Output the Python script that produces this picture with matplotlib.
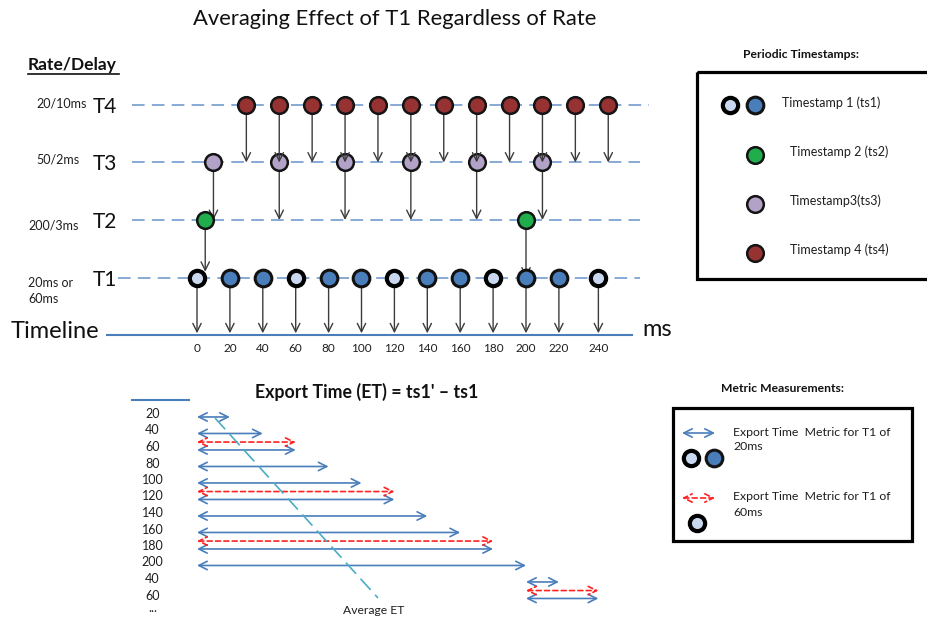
import matplotlib
matplotlib.use('Agg')
import matplotlib.pyplot as plt
from matplotlib.patches import Rectangle

plt.rcParams['font.family'] = ['Lato', 'DejaVu Sans']

# ---------------- data ----------------
# top diagram (x in ms)
t1_times = [0, 20, 40, 60, 80, 100, 120, 140, 160, 180, 200, 220, 244]
t1_light = [True, False, False, True, False, False, True, False, False, True, False, False, True]
t2_times = [5, 200]
t3_times = [10, 50, 90, 130, 170, 210]
t4_times = [30, 50, 70, 90, 110, 130, 150, 170, 190, 210, 230, 250]
tick_positions = [0, 20, 40, 60, 80, 100, 120, 140, 160, 180, 200, 220, 244]
tick_labels = ['0', '20', '40', '60', '80', '100', '120', '140', '160', '180', '200', '220', '240']
level_names = ['Timeline', 'T1', 'T2', 'T3', 'T4']
level_rates = ['', '20ms or\n60ms', '200/3ms', '50/2ms', '20/10ms']

# bottom diagram (x in ms, y in rows)
et_row_labels = ['20', '40', '60', '80', '100', '120', '140', '160', '180', '200', '40', '60', '...']
et_blue_start = [0, 0, 0, 0, 0, 0, 0, 0, 0, 0, 200, 200]
et_blue_end = [20, 40, 60, 80, 100, 120, 140, 160, 180, 200, 220, 244]
et_red_rows = [2, 5, 8, 11]
et_red_start = [0, 0, 0, 200]
et_red_end = [60, 120, 180, 244]
avg_et_x = [11, 110]
avg_et_row = [0.25, 11.15]

# ---------------- styles ----------------
C_LIGHT = '#c9d8ee'
C_BLUE = '#4a7ebb'
C_GREEN = '#1fae4b'
C_PURPLE = '#b3a2c7'
C_RED = '#963232'
C_DASH = '#7ea3d2'
C_ARROW = '#3c3c3c'
C_TXT = '#1e1e1e'

W, H = 927, 619
fig = plt.figure(figsize=(W / 100, H / 100), dpi=100)

# canvas axes in pixel units (layout only)
cv = fig.add_axes([0, 0, 1, 1])
cv.set_xlim(0, W)
cv.set_ylim(H, 0)
cv.axis('off')

# top diagram axes: x in ms, y in level
X0, SX = 197, 1.645
Y0, SY = 335, 57.5
top = fig.add_axes([0, 0, 1, 1])
top.set_xlim((0 - X0) / SX, (W - X0) / SX)
top.set_ylim((Y0 - H) / SY, (Y0 - 0) / SY)
top.axis('off')
top.patch.set_alpha(0)

# bottom diagram axes: x in ms, y in rows
R0, SR = 414, 16.5
bot = fig.add_axes([0, 0, 1, 1])
bot.set_xlim((0 - X0) / SX, (W - X0) / SX)
bot.set_ylim((H - R0) / SR, (0 - R0) / SR)
bot.axis('off')
bot.patch.set_alpha(0)

# ---- dashed level lines ----
dash_ext = {1: (-48, 269), 2: (-39.5, 269), 3: (-39.5, 269), 4: (-39.5, 275)}
for lv, (a, b) in dash_ext.items():
    top.plot([a, b], [lv, lv], color=C_DASH, lw=1.3, dashes=(7, 4), zorder=1)
top.plot([-54.7, 264.4], [0, 0], color=C_BLUE, lw=1.5, zorder=1)

def arrow(ax, x0, y0, x1, y1, z, **kw):
    props = dict(arrowstyle='->', color=C_ARROW, lw=1.0, mutation_scale=15,
                 shrinkA=0, shrinkB=0)
    props.update(kw)
    ax.annotate('', xy=(x1, y1), xytext=(x0, y0), arrowprops=props, zorder=z,
                annotation_clip=False)

# T3 -> T2 arrows
for t in t3_times:
    arrow(top, t, 3, t, 2, 2)
# T2 -> T1 arrows
arrow(top, t2_times[0], 2, t2_times[0], 1.1, 2)
arrow(top, t2_times[1], 2, t2_times[1], 1.0, 2)
# T1 -> timeline
for t in t1_times:
    arrow(top, t, 1, t, 0.03, 2)

# circles
def dot(ax, x, y, fc, ms=12, mew=1.8, ec='#141414', z=3):
    ax.plot([x], [y], 'o', ms=ms, mfc=fc, mec=ec, mew=mew, zorder=z)

for t in t3_times:
    dot(top, t, 3, C_PURPLE, z=3)
for t in t2_times:
    dot(top, t, 2, C_GREEN, z=3)
for t, lt in zip(t1_times, t1_light):
    if lt:
        dot(top, t, 1, C_LIGHT, ms=11, mew=3.0, ec='#000000', z=3)
    else:
        dot(top, t, 1, C_BLUE, ms=12, mew=2.2, ec='#111111', z=3)
# T4 -> T3 arrows (above T3 circles)
for t in t4_times:
    arrow(top, t, 4, t, 3.0, 4)
for t in t4_times:
    dot(top, t, 4, C_RED, z=5)

# tick labels under timeline
for p, lab in zip(tick_positions, tick_labels):
    top.text(p, -0.23, lab, ha='center', va='center', fontsize=8.5, color=C_TXT)

# ---- left labels ----
cv.text(28, 65, 'Rate/Delay', fontsize=12.5, fontweight='bold', ha='left', va='center',
        color='#111111')
cv.plot([28, 119], [74, 74], color='#111111', lw=1.2)
for lv in range(1, 5):
    cv.text(93, Y0 - SY * lv + 2, level_names[lv], fontsize=15, ha='left', va='center',
            color='#111111')
cv.text(36, 103, level_rates[4], fontsize=9, ha='left', va='center', color=C_TXT)
cv.text(36, 160, level_rates[3], fontsize=9, ha='left', va='center', color=C_TXT)
cv.text(28, 226, level_rates[2], fontsize=9, ha='left', va='center', color=C_TXT)
cv.text(28, 291, level_rates[1], fontsize=9, ha='left', va='center', color=C_TXT,
        linespacing=1.4)
cv.text(11, 331, 'Timeline', fontsize=17, ha='left', va='center', color='#111111')
cv.text(642, 330, 'ms', fontsize=17, ha='left', va='center', color='#111111')

# title
cv.text(395, 19, 'Averaging Effect of T1 Regardless of Rate', fontsize=15.8,
        ha='center', va='center', color='#111111')

# ---- Periodic timestamps box ----
cv.text(801, 54, 'Periodic Timestamps:', fontsize=8.7, fontweight='bold', ha='center',
        va='center', color='#111111')
cv.add_patch(Rectangle((697, 72), 250, 207, fill=False, lw=2.3, ec='#000000', zorder=2))
dot(cv, 730, 105, C_LIGHT, ms=11, mew=3.0, ec='#000000')
dot(cv, 755, 105, C_BLUE, ms=12, mew=2.2)
cv.text(782, 103, 'Timestamp 1 (ts1)', fontsize=9, ha='left', va='center', color=C_TXT)
dot(cv, 755, 155, C_GREEN)
cv.text(790, 152, 'Timestamp 2 (ts2)', fontsize=9, ha='left', va='center', color=C_TXT)
dot(cv, 755, 204, C_PURPLE)
cv.text(790, 201, 'Timestamp3(ts3)', fontsize=9, ha='left', va='center', color=C_TXT)
dot(cv, 755, 253, C_RED)
cv.text(790, 250, 'Timestamp 4 (ts4)', fontsize=9, ha='left', va='center', color=C_TXT)

# ---- Export time section ----
cv.text(367, 392, "Export Time (ET) = ts1' \u2013 ts1", fontsize=12.8, fontweight='bold',
        ha='center', va='center', color='#111111')
cv.plot([132, 189], [400, 400], color=C_BLUE, lw=1.5)

for i, lab in enumerate(et_row_labels):
    yy = i - 0.25 if lab == '...' else i
    bot.text(-27, yy, lab, fontsize=9, ha='center', va='center', color=C_TXT)

dbl = dict(arrowstyle='<->', lw=1.2, mutation_scale=15, shrinkA=0, shrinkB=0)
for i, (a, b) in enumerate(zip(et_blue_start, et_blue_end)):
    bot.annotate('', xy=(b, i + 0.18), xytext=(a, i + 0.18),
                 arrowprops=dict(dbl, color=C_BLUE), annotation_clip=False)
for r, a, b in zip(et_red_rows, et_red_start, et_red_end):
    bot.annotate('', xy=(b, r - 0.3), xytext=(a, r - 0.3),
                 arrowprops=dict(dbl, color='#ff2020', linestyle=(0, (3, 2))),
                 annotation_clip=False)
bot.plot(avg_et_x, avg_et_row, color='#4bacc6', lw=1.2, dashes=(9, 4), zorder=3)
cv.text(374, 610, 'Average ET', fontsize=8.7, ha='center', va='center', color=C_TXT)

# ---- Metric measurements box ----
cv.text(783, 388, 'Metric Measurements:', fontsize=8.7, fontweight='bold', ha='center',
        va='center', color='#111111')
cv.add_patch(Rectangle((673, 408), 239, 133, fill=False, lw=2.3, ec='#000000', zorder=2))
cv.annotate('', xy=(715, 433), xytext=(682, 433),
            arrowprops=dict(dbl, color=C_BLUE))
cv.text(733, 432, 'Export Time  Metric for T1 of', fontsize=8.8, ha='left', va='center',
        color=C_TXT)
cv.text(733, 447, '20ms', fontsize=8.8, ha='left', va='center', color=C_TXT)
dot(cv, 691, 458, C_LIGHT, ms=11, mew=3.0, ec='#000000')
dot(cv, 714, 458, C_BLUE, ms=12, mew=2.2)
cv.annotate('', xy=(715, 498), xytext=(682, 498),
            arrowprops=dict(dbl, color='#ff2020', linestyle=(0, (3, 2))))
cv.text(733, 497, 'Export Time  Metric for T1 of', fontsize=8.8, ha='left', va='center',
        color=C_TXT)
cv.text(733, 513, '60ms', fontsize=8.8, ha='left', va='center', color=C_TXT)
dot(cv, 697, 523, C_LIGHT, ms=11, mew=3.0, ec='#000000')

fig.savefig('out.png', dpi=100)
